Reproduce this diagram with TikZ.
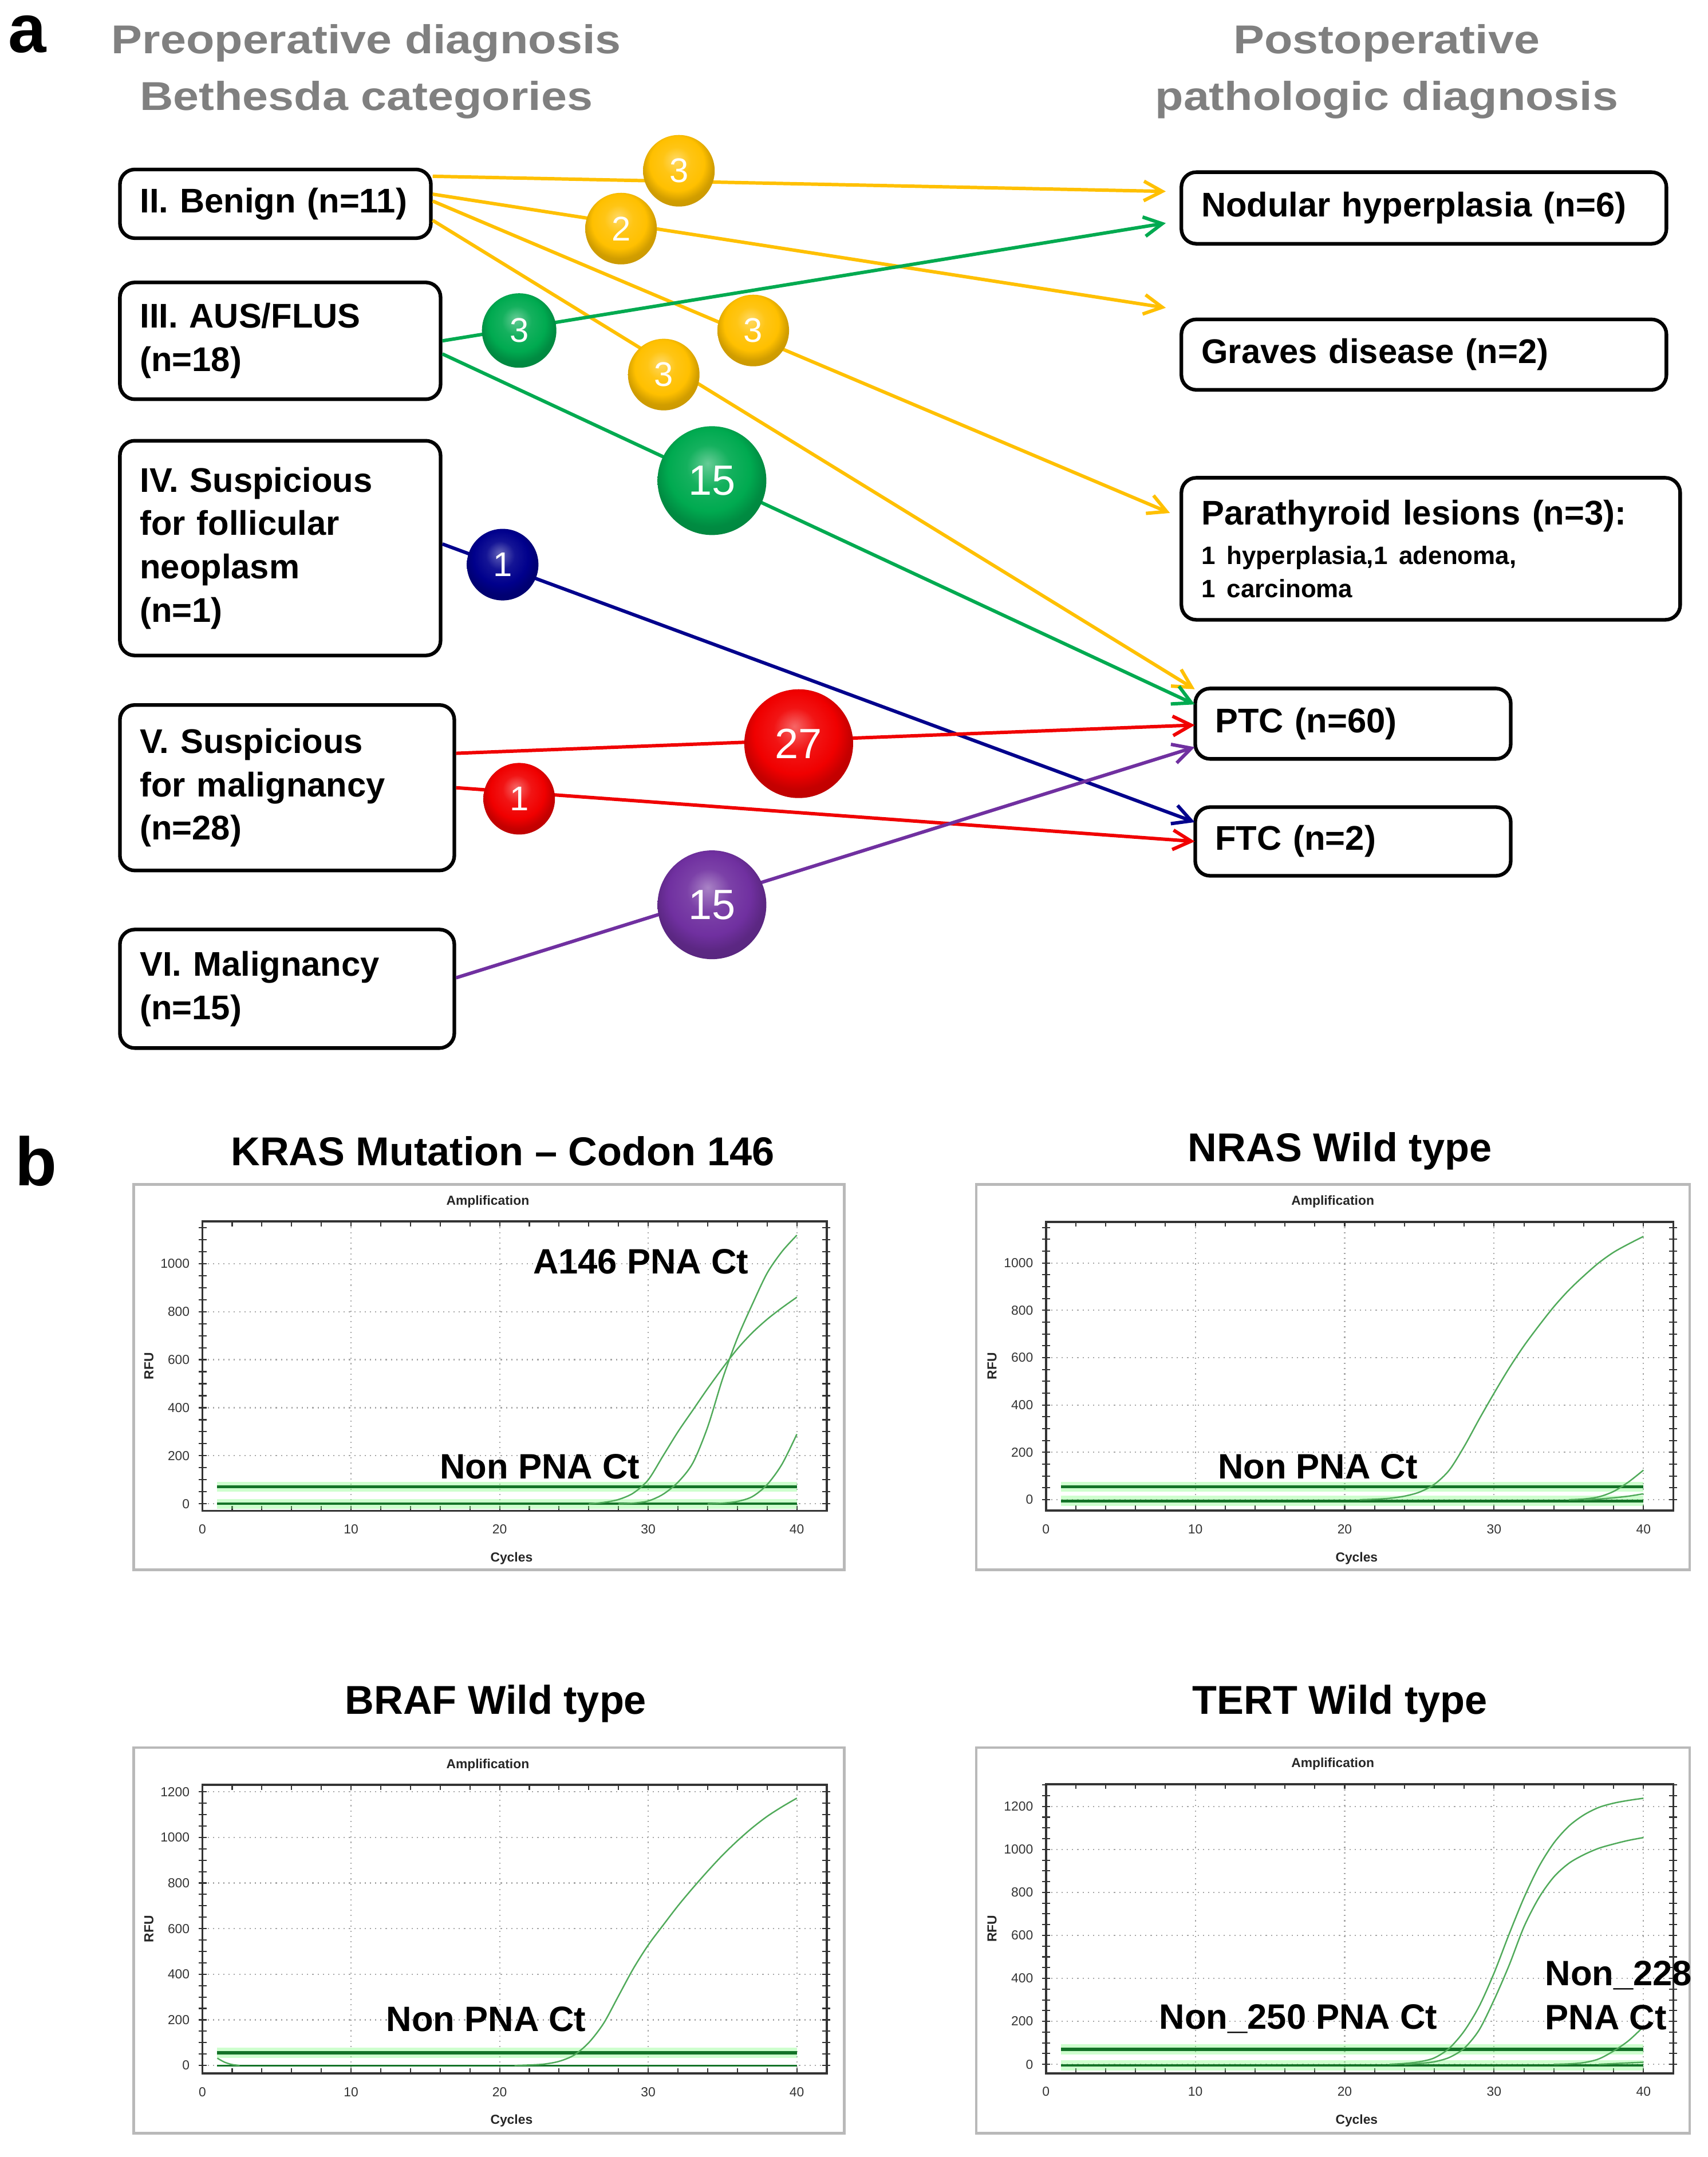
\documentclass[tikz,border=0pt]{standalone}
\usepackage{fontspec}
\setmainfont{Liberation Sans}
\newfontfamily\headfont[FakeStretch=1.15]{Liberation Sans}
\usetikzlibrary{arrows.meta, calc}

\definecolor{gold}{RGB}{255,192,0}
\definecolor{leaf}{RGB}{0,170,80}
\definecolor{navy}{RGB}{0,0,140}
\definecolor{scarlet}{RGB}{240,0,0}
\definecolor{plum}{RGB}{112,48,160}
\definecolor{headgray}{RGB}{128,128,128}
\definecolor{curvegreen}{RGB}{80,170,90}
\definecolor{darkgreen}{RGB}{20,115,40}

\colorlet{bubcol}{gold}
\pgfdeclareradialshading[bubcol]{bubble}{\pgfpoint{-2bp}{8bp}}{%
  color(0bp)=(bubcol!60!white);
  color(10bp)=(bubcol!92!white);
  color(19bp)=(bubcol);
  color(25bp)=(bubcol!82!black);
  color(50bp)=(bubcol!65!black)}

\newcommand{\boxfont}{\bfseries\fontsize{17}{21.5}\selectfont}
\newcommand{\smallfont}{\fontsize{12.5}{14}\selectfont}

\tikzset{
  catbox/.style={draw, line width=1.8pt, rounded corners=2.6mm, align=left,
    inner xsep=3.5mm, inner ysep=0pt, font=\boxfont},
  bubble/.style={circle, shade, shading=bubble, text=white, inner sep=0pt,
    minimum size=12.5mm, font=\fontsize{17}{17}\selectfont},
  bigbubble/.style={bubble, minimum size=19mm, font=\fontsize{21}{21}\selectfont},
  bubcol/.code={\colorlet{bubcol}{#1}},
  flow/.style={->, line width=1.7pt},
  headtxt/.style={font=\headfont\bfseries\fontsize{20}{28}\selectfont,
    text=headgray, align=center},
  charttitle/.style={font=\bfseries\fontsize{20}{20}\selectfont},
  gridline/.style={gray!70, dotted, line width=.6pt},
  plotframe/.style={gray!40!black, line width=1.1pt},
  ticklab/.style={font=\fontsize{6.5}{6.5}\selectfont, text=gray!40!black},
  axlab/.style={font=\bfseries\fontsize{6.5}{6.5}\selectfont, text=gray!30!black},
  ctlabel/.style={font=\bfseries\fontsize{17.5}{22}\selectfont, align=left},
  ampcurve/.style={curvegreen, line width=.7pt},
  halo/.style={green!55!white, opacity=.35, line width=5pt},
  thresh/.style={darkgreen, line width=1.6pt},
  panel/.style={draw=gray!55, line width=1.3pt},
}

% frame, grid and labels of one amplification plot
\newcommand{\ampaxes}[3]{%
  \foreach \c in {10,20,30,40} \draw[gridline] (\c,#1) -- (\c,#2);
  \foreach \r in {0,200,...,#3} {
    \draw[gridline] (0,\r) -- (42,\r);
    \node[ticklab, left=1mm] at (0,\r) {\r};
  }
  \foreach \c in {0,10,...,40} \node[ticklab, below=1.2mm] at (\c,#1) {\c};
  \foreach \c in {0,2,...,42}
    \draw[plotframe, line width=.6pt] (\c,#1) -- ++(0,2.5pt) (\c,#2) -- ++(0,-2.5pt);
  \foreach \r in {0,50,...,#2}
    \draw[plotframe, line width=.6pt] (-0.25,\r) -- ++(4pt,0) (42.25,\r) -- ++(-4pt,0);
  \draw[plotframe] (0,#1) rectangle (42,#2);
  \node[axlab, rotate=90] at (-3.6,{(#1+#2)/2}) {RFU};
  \node[axlab, above=1.2mm] at (19.2,#2) {Amplification};
  \node[axlab, below=6mm] at (20.8,#1) {Cycles};
}

\begin{document}
\begin{tikzpicture}[x=0.02405cm, y=-0.02405cm, >={Straight Barb[length=3.2mm, width=3.4mm]}]
  \useasboundingbox (0,0) rectangle (1240,1566.3);

  % ---- panel a ----
  \node[font=\bfseries\fontsize{34}{34}\selectfont] (tagA) at (20,25) {a};
  \node[headtxt] (prehead) at (266,52) {Preoperative diagnosis\\Bethesda categories};
  \node[headtxt] (posthead) at (1007,52) {Postoperative\\pathologic diagnosis};

  \node[catbox, minimum height=12mm, text width=47.3mm] (benign) at (200,148) {II. Benign (n=11)};
  \node[catbox, minimum height=20.4mm, text width=49mm] (aus) at (203.5,247.5) {III. AUS/FLUS\\(n=18)};
  \node[catbox, minimum height=37.5mm, text width=49mm] (foll) at (203.5,398) {IV. Suspicious\\for follicular\\neoplasm\\(n=1)};
  \node[catbox, minimum height=28.9mm, text width=51.4mm] (susp) at (208.5,572) {V. Suspicious\\for malignancy\\(n=28)};
  \node[catbox, minimum height=20.7mm, text width=51.4mm] (malig) at (208.5,718) {VI. Malignancy\\(n=15)};

  \node[catbox, minimum height=12.5mm, text width=77.7mm] (nodular) at (1034,151) {Nodular hyperplasia (n=6)};
  \node[catbox, minimum height=12.3mm, text width=77.7mm] (graves) at (1034,257.5) {Graves disease (n=2)};
  \node[catbox, minimum height=24.8mm, text width=80.1mm] (para) at (1039,398.5) {Parathyroid lesions (n=3):\\[-2pt]{\smallfont 1 hyperplasia,1\ adenoma,}\\[-5pt]{\smallfont 1 carcinoma}};
  \node[catbox, minimum height=12.3mm, text width=48.1mm] (ptc) at (982.5,525.5) {PTC (n=60)};
  \node[catbox, minimum height=12mm, text width=48.1mm] (ftc) at (982.5,611) {FTC (n=2)};

  % connectors
  \draw[flow, gold] ($(benign.east)+(0,-20)$) -- ($(nodular.west)+(-10,-12)$);
  \draw[flow, gold] ($(benign.east)+(0,-7)$) -- ($(graves.west)+(-10,-34)$);
  \draw[flow, gold] ($(benign.east)+(0,-2)$) -- ($(para.west)+(-7,-26)$);
  \draw[flow, gold] ($(benign.east)+(0,12)$) -- ($(ptc.west)+(1,-25)$);
  \draw[flow, leaf] (aus.east) -- ($(nodular.west)+(-10,11)$);
  \draw[flow, leaf] ($(aus.east)+(0,9.5)$) -- ($(ptc.west)+(1,-14)$);
  \draw[flow, navy] ($(foll.east)+(0,-3)$) -- ($(ftc.west)+(1,-14)$);
  \draw[flow, scarlet] ($(susp.east)+(0,-25)$) -- ($(ptc.west)+(1,1)$);
  \draw[flow, scarlet] (susp.east) -- ($(ftc.west)+(1,0)$);
  \draw[flow, plum] ($(malig.east)+(0,-8)$) -- ($(ptc.west)+(1,17)$);

  % counts
  \node[bubble, bubcol=gold] (nodA) at (493,124) {3};
  \node[bubble, bubcol=gold] (gravA) at (451,166) {2};
  \node[bubble, bubcol=leaf, minimum size=13mm] (nodB) at (377,240) {3};
  \node[bubble, bubcol=gold] (paraA) at (547,240) {3};
  \node[bubble, bubcol=gold] (ptcA) at (482,272) {3};
  \node[bigbubble, bubcol=leaf] (ptcB) at (517,349) {15};
  \node[bubble, bubcol=navy] (ftcA) at (365,410) {1};
  \node[bigbubble, bubcol=scarlet] (ptcC) at (580,540) {27};
  \node[bubble, bubcol=scarlet] (ftcB) at (377,580) {1};
  \node[bigbubble, bubcol=plum] (ptcD) at (517,657) {15};

  % ---- panel b ----
  \node[font=\bfseries\fontsize{34}{34}\selectfont] (tagB) at (26,843) {b};
  \node[charttitle] (kras) at (365,836) {KRAS Mutation -- Codon 146};
  \node[charttitle] (nras) at (973,836) {NRAS Wild type};
  \node[charttitle] (braf) at (360,1237) {BRAF Wild type};
  \node[charttitle] (tert) at (973,1237) {TERT Wild type};

  \draw[panel] (97,860) rectangle (613,1140);
  \draw[panel] (709,860) rectangle (1227,1140);
  \draw[panel] (97,1269) rectangle (613,1549);
  \draw[panel] (709,1269) rectangle (1227,1549);

  % KRAS
  \begin{scope}[shift={(147,1092)}, x=0.2595cm, y=0.004194cm]
    \ampaxes{-29}{1175}{1000}
    \draw[halo] (1,71) -- (40,71) (1,0) -- (40,0);
    \draw[thresh] (1,71) -- (40,71);
    \draw[thresh, line width=1.2pt] (1,0) -- (40,0);
    \draw[ampcurve] plot[smooth] coordinates {(26,0) (27,6) (28,18) (29,45) (30,100) (31,200) (32,300) (33,390) (34,480) (35,565) (36,645) (37,712) (38,768) (39,816) (40,860)};
    \draw[ampcurve] plot[smooth] coordinates {(28,0) (29,3) (30,12) (31,40) (32,90) (33,170) (34,320) (35,520) (36,690) (37,830) (38,960) (39,1050) (40,1118)};
    \draw[ampcurve] plot[smooth] coordinates {(34,0) (35,3) (36,10) (37,30) (38,80) (39,165) (40,290)};
    \node[ctlabel] (krasA) at (29.5,1009) {A146 PNA Ct};
    \node[ctlabel] (krasN) at (22.7,155) {Non PNA Ct};
  \end{scope}

  % NRAS
  \begin{scope}[shift={(759.5,1089)}, x=0.2609cm, y=0.004137cm]
    \ampaxes{-46}{1174}{1000}
    \draw[halo] (1,55) -- (40,55) (1,-5) -- (40,-5);
    \draw[thresh] (1,55) -- (40,55);
    \draw[thresh, line width=1.4pt] (1,-5) -- (40,-5);
    \draw[ampcurve] plot[smooth] coordinates {(21,0) (22,2) (23,6) (24,15) (25,32) (26,65) (27,125) (28,225) (29,340) (30,450) (31,555) (32,650) (33,735) (34,815) (35,885) (36,945) (37,1000) (38,1045) (39,1080) (40,1112)};
    \draw[ampcurve] plot[smooth] coordinates {(35,0) (36,3) (37,12) (38,35) (39,75) (40,125)};
    \draw[ampcurve] plot[smooth] coordinates {(36,0) (37,3) (38,8) (39,15) (40,25)};
    \node[ctlabel] (nrasN) at (18.2,140) {Non PNA Ct};
  \end{scope}

  % BRAF
  \begin{scope}[shift={(147,1499.8)}, x=0.2595cm, y=0.003987cm]
    \ampaxes{-34}{1230}{1200}
    \draw[halo] (1,55) -- (40,55);
    \draw[thresh] (1,55) -- (40,55);
    \draw[darkgreen, line width=.8pt] (1,0) -- (40,0);
    \draw[ampcurve] plot[smooth] coordinates {(1,32) (1.5,14) (2,4) (2.5,0)};
    \draw[ampcurve] plot[smooth] coordinates {(21,0) (22,2) (23,6) (24,18) (25,45) (26,100) (27,185) (28,305) (29,425) (30,528) (31,615) (32,700) (33,778) (34,852) (35,922) (36,985) (37,1042) (38,1092) (39,1134) (40,1172)};
    \node[ctlabel] (brafN) at (19.1,204) {Non PNA Ct};
  \end{scope}

  % TERT
  \begin{scope}[shift={(759.5,1499)}, x=0.2609cm, y=0.003747cm]
    \ampaxes{-41}{1304}{1200}
    \draw[halo] (1,69) -- (40,69) (1,-5) -- (40,-5);
    \draw[thresh] (1,69) -- (40,69);
    \draw[thresh, line width=1.2pt] (1,-5) -- (40,-5);
    \draw[ampcurve] plot[smooth] coordinates {(23,0) (24,4) (25,12) (26,30) (27,75) (28,155) (29,270) (30,425) (31,605) (32,775) (33,920) (34,1030) (35,1108) (36,1160) (37,1195) (38,1215) (39,1228) (40,1238)};
    \draw[ampcurve] plot[smooth] coordinates {(24,0) (25,4) (26,12) (27,32) (28,75) (29,160) (30,300) (31,460) (32,640) (33,775) (34,872) (35,935) (36,975) (37,1005) (38,1025) (39,1042) (40,1055)};
    \draw[ampcurve] plot[smooth] coordinates {(34,0) (35,2) (36,8) (37,25) (38,62) (39,110) (40,175)};
    \draw[ampcurve] (37,0) -- (40,10);
    \node[ctlabel] (tertN) at (16.9,212) {Non\_250 PNA Ct};
    \node[ctlabel, anchor=west] (tertM) at (32.95,321) {Non\_228\\PNA Ct};
  \end{scope}
\end{tikzpicture}
\end{document}
